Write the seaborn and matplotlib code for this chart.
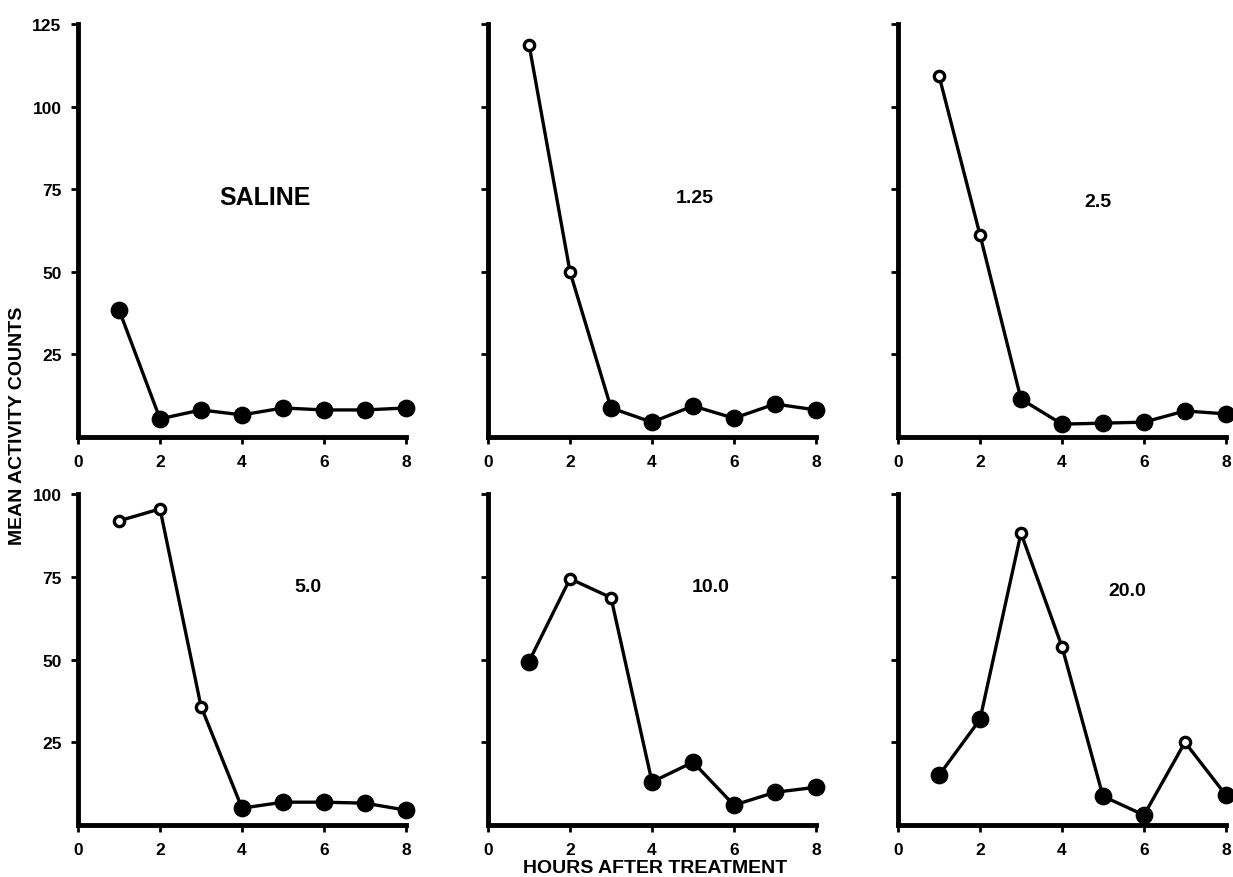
import pandas as pd
import matplotlib
matplotlib.use("Agg")
import matplotlib.pyplot as plt
import seaborn as sns

# hours after treatment
hours = [1, 2, 3, 4, 5, 6, 7, 8]

# mean activity counts per dose group
saline = [38.5, 5.5, 8.2, 6.7, 8.8, 8.2, 8.2, 8.8]
dose_1_25 = [118.8, 50.0, 8.8, 4.5, 9.4, 5.7, 10.0, 8.2]
dose_2_5 = [109.4, 61.2, 11.5, 3.9, 4.2, 4.5, 7.9, 7.0]
dose_5_0 = [91.9, 95.5, 35.8, 5.1, 6.9, 6.9, 6.6, 4.5]
dose_10_0 = [49.4, 74.4, 68.7, 13.0, 19.0, 6.0, 9.9, 11.4]
dose_20_0 = [15.0, 31.9, 88.2, 53.9, 8.7, 3.0, 25.0, 9.0]

# hours drawn as open circles
open_saline = []
open_1_25 = [1, 2]
open_2_5 = [1, 2]
open_5_0 = [1, 2, 3]
open_10_0 = [2, 3]
open_20_0 = [3, 4, 7]

panel_labels = ["SALINE", "1.25", "2.5", "5.0", "10.0", "20.0"]
series = [saline, dose_1_25, dose_2_5, dose_5_0, dose_10_0, dose_20_0]
open_pts = [open_saline, open_1_25, open_2_5, open_5_0, open_10_0, open_20_0]

sns.set_style("ticks")
plt.rcParams["font.family"] = ["Liberation Sans", "DejaVu Sans"]
plt.rcParams["font.weight"] = "bold"
plt.rcParams["text.color"] = "black"
plt.rcParams["xtick.color"] = "black"
plt.rcParams["ytick.color"] = "black"
plt.rcParams["axes.edgecolor"] = "black"

fig = plt.figure(figsize=(12.33, 8.78), dpi=100)

lefts = [0.0633, 0.3958, 0.7283]
width = 0.266
rows = [(0.5011, 0.4704), (0.0592, 0.377)]
label_pos = [(0.57, 0.58), (0.63, 0.58), (0.61, 0.57), (0.70, 0.72), (0.68, 0.72), (0.70, 0.71)]

for i in range(6):
    r, c = divmod(i, 3)
    bottom, height = rows[r]
    ax = fig.add_axes([lefts[c], bottom, width, height])
    df = pd.DataFrame({"hour": hours, "count": series[i]})
    df["open"] = df["hour"].isin(open_pts[i])

    sns.lineplot(data=df, x="hour", y="count", color="black", linewidth=2.4, ax=ax)
    sns.scatterplot(data=df[~df["open"]], x="hour", y="count", color="black",
                    s=140, edgecolor="black", ax=ax, clip_on=False, zorder=3)
    sns.scatterplot(data=df[df["open"]], x="hour", y="count", color="white",
                    s=55, edgecolor="black", linewidth=2.4, ax=ax, clip_on=False, zorder=4)

    ax.set_xlim(0, 8)
    if r == 0:
        ax.set_ylim(0, 125)
        ax.set_yticks([25, 50, 75, 100, 125])
    else:
        ax.set_ylim(0, 100)
        ax.set_yticks([25, 50, 75, 100])
    ax.set_xticks([0, 2, 4, 6, 8])
    if c != 0:
        ax.set_yticklabels([])
    ax.set_xlabel("")
    ax.set_ylabel("")
    sns.despine(ax=ax)
    for sp in ["left", "bottom"]:
        ax.spines[sp].set_linewidth(3.5)
        ax.spines[sp].set_color("black")
    ax.tick_params(axis="both", width=2, length=5, labelsize=12.5, pad=7, colors="black")
    for t in ax.get_xticklabels() + ax.get_yticklabels():
        t.set_fontweight("bold")

    fs = 18 if i == 0 else 14
    ax.text(label_pos[i][0], label_pos[i][1], panel_labels[i], transform=ax.transAxes,
            ha="center", va="center", fontsize=fs, fontweight="bold", color="black")

fig.text(0.014, 0.515, "MEAN ACTIVITY COUNTS", rotation=90, ha="center", va="center",
         fontsize=14, fontweight="bold", color="black")
fig.text(0.531, 0.011, "HOURS AFTER TREATMENT", ha="center", va="center",
         fontsize=14, fontweight="bold", color="black")

fig.savefig("out.png", dpi=100)
